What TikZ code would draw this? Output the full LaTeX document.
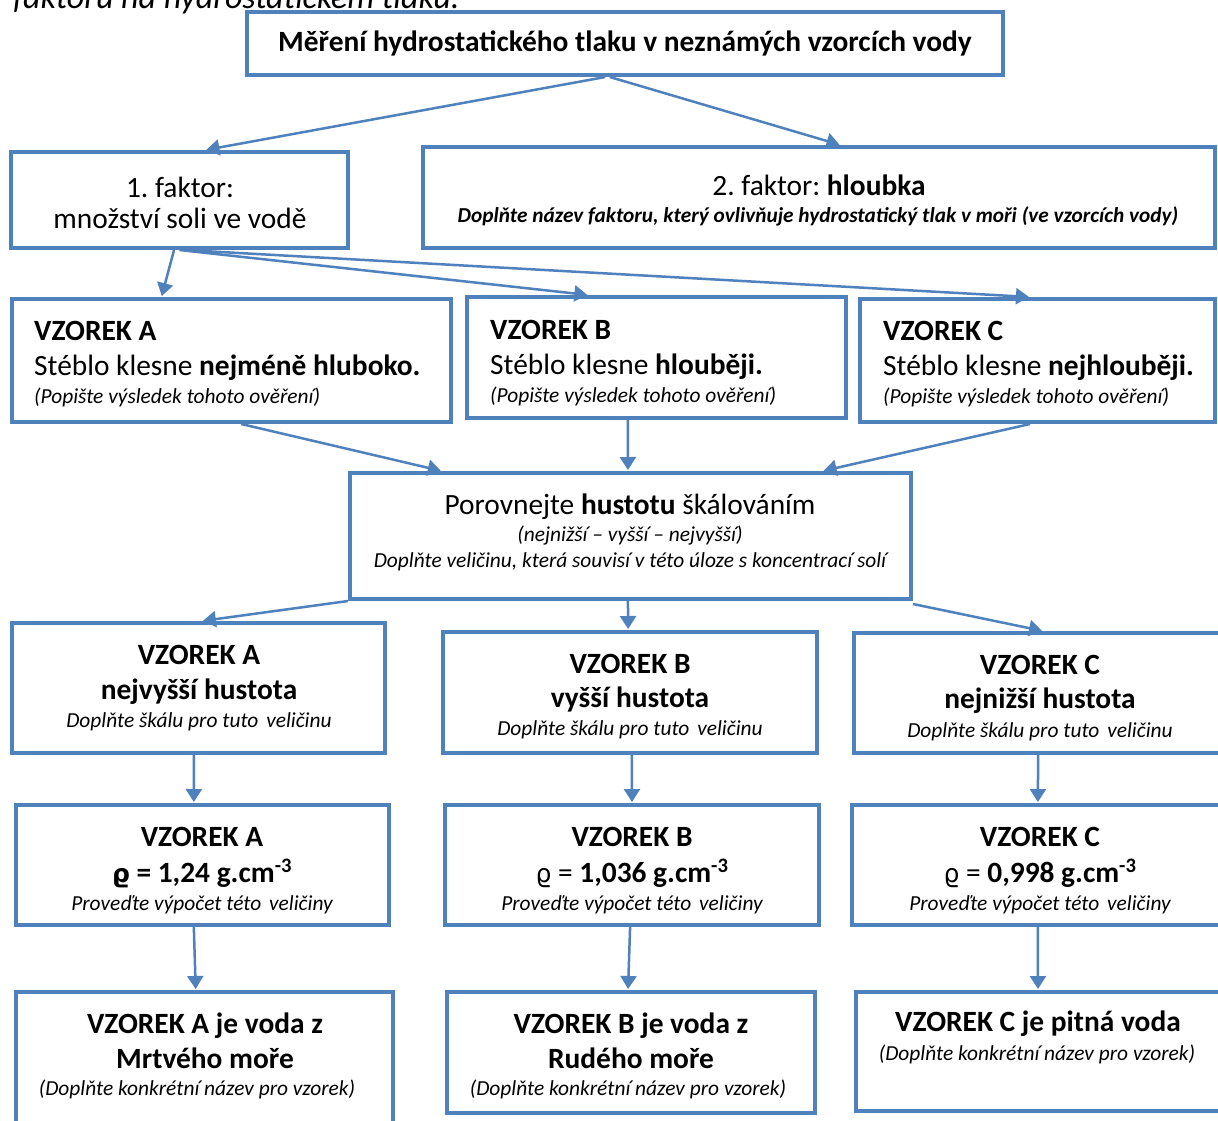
\documentclass[tikz,border=0pt]{standalone}
\usepackage{fontspec}
\setmainfont{Carlito}
\newfontfamily\rhofont{DejaVu Sans}
\usetikzlibrary{arrows.meta,calc}
\definecolor{boxblue}{HTML}{4F81BD}
\newcommand\fsz[1]{\fontsize{#1}{#1}\selectfont}
\frenchspacing
\begin{document}
\frenchspacing
\begin{tikzpicture}[x=1pt,y=-1pt,
  box/.style={draw=boxblue, line width=4pt, inner sep=0pt, fill=white},
  conn/.style={draw=boxblue, line width=2.5pt, -{Triangle[width=16pt,length=13pt]}, shorten >=1pt},
  txt/.style={inner sep=0pt, anchor=base, text=black},
  ltxt/.style={inner sep=0pt, anchor=base west, text=black},
  big/.style={font=\fsz{29.4}},
  bigb/.style={font=\fsz{29.4}\bfseries},
  small/.style={font=\fsz{21.4}\itshape},
]
\useasboundingbox (0,0) rectangle (1218,1120);
\begin{scope}
\clip (0,0) rectangle (1218,1120);
\fill[white] (0,0) rectangle (1218,1120);

% cut-off heading above
\node[ltxt, font=\fsz{34}\itshape] (head) at (13,8) {faktoru na hydrostatickém tlaku.};

% boxes
\node[box, minimum width=756pt, minimum height=63pt]  (top) at (625,43.5) {};
\node[box, minimum width=337pt, minimum height=96pt]  (f1)  at (179.5,200) {};
\node[box, minimum width=792pt, minimum height=101pt] (f2)  at (819,197.5) {};
\node[box, minimum width=439pt, minimum height=123pt] (a2)  at (231.5,360.5) {};
\node[box, minimum width=379pt, minimum height=121pt] (b2)  at (656.5,357.5) {};
\node[box, minimum width=355pt, minimum height=123pt] (c2)  at (1037.5,360.5) {};
\node[box, minimum width=561pt, minimum height=126pt] (por) at (630.5,536) {};
\node[box, minimum width=373pt, minimum height=130pt] (a4)  at (198.5,688) {};
\node[box, minimum width=374pt, minimum height=121pt] (b4)  at (630,692.5) {};
\node[box, minimum width=372pt, minimum height=120pt] (c4)  at (1040,693) {};
\node[box, minimum width=373pt, minimum height=120pt] (a5)  at (202.5,865) {};
\node[box, minimum width=374pt, minimum height=120pt] (b5)  at (632,865) {};
\node[box, minimum width=374pt, minimum height=120pt] (c5)  at (1039,865) {};
\node[box, minimum width=377pt, minimum height=138pt] (a6)  at (204.5,1061) {};
\node[box, minimum width=368pt, minimum height=121pt] (b6)  at (631,1052.5) {};
\node[box, minimum width=370pt, minimum height=119pt] (c6)  at (1041,1051.5) {};

% connectors
\draw[conn] ($(top.south west)!0.474!(top.south east)$) -- ($(f1.north west)!0.576!(f1.north east)$);
\draw[conn] ($(top.south west)!0.48!(top.south east)$) -- ($(f2.north west)!0.527!(f2.north east)$);
\draw[conn] ($(f1.south west)!0.484!(f1.south east)$) -- ($(a2.north west)!0.342!(a2.north east)$);
\draw[conn] ($(f1.south west)!0.50!(f1.south east)$) -- ($(b2.north west)!0.322!(b2.north east)$);
\draw[conn] ($(f1.south west)!0.516!(f1.south east)$) -- ($(c2.north west)!0.479!(c2.north east)$);
\draw[conn] ($(a2.south west)!0.522!(a2.south east)$) -- ($(por.north west)!0.166!(por.north east)$);
\draw[conn] ($(b2.south west)!0.425!(b2.south east)$) -- ($(por.north west)!0.4955!(por.north east)$);
\draw[conn] ($(c2.south west)!0.479!(c2.south east)$) -- ($(por.north west)!0.84!(por.north east)$);
\draw[conn] (por.south west) -- ($(a4.north west)!0.509!(a4.north east)$);
\draw[conn] ($(por.south west)!0.4955!(por.south east)$) -- ($(b4.north west)!0.495!(b4.north east)$);
\draw[conn] ([yshift=-3pt]por.south east) -- ($(c4.north west)!0.508!(c4.north east)$);
\draw[conn] ($(a4.south west)!0.488!(a4.south east)$) -- ($(a5.north west)!0.477!(a5.north east)$);
\draw[conn] ($(b4.south west)!0.505!(b4.south east)$) -- ($(b5.north west)!0.5!(b5.north east)$);
\draw[conn] ($(c4.south west)!0.495!(c4.south east)$) -- ($(c5.north west)!0.497!(c5.north east)$);
\draw[conn] ($(a5.south west)!0.477!(a5.south east)$) -- ($(a6.north west)!0.477!(a6.north east)$);
\draw[conn] ($(b5.south west)!0.495!(b5.south east)$) -- ($(b6.north west)!0.492!(b6.north east)$);
\draw[conn] ($(c5.south west)!0.497!(c5.south east)$) -- ($(c6.north west)!0.492!(c6.north east)$);

% texts
\node[txt, bigb] (ttop) at (625,51) {Měření hydrostatického tlaku v neznámých vzorcích vody};

\node[txt, big] (tf1a) at (180,197) {1. faktor:};
\node[txt, big] (tf1b) at (180,228) {množství soli ve vodě};

\node[txt, big] (tf2a) at (819,195) {2. faktor: \textbf{hloubka}};
\node[txt, font=\fsz{21.3}\bfseries\itshape] (tf2b) at (818,222) {Doplňte název faktoru, který ovlivňuje hydrostatický tlak v moři (ve vzorcích vody)};

\node[ltxt, bigb] (ta2a) at (34,340) {VZOREK A};
\node[ltxt, big]  (ta2b) at (34,375) {Stéblo klesne \textbf{nejméně hluboko.}};
\node[ltxt, small] (ta2c) at (34,403) {(Popište výsledek tohoto ověření)};

\node[ltxt, bigb] (tb2a) at (490,339) {VZOREK B};
\node[ltxt, big]  (tb2b) at (490,374) {Stéblo klesne \textbf{hlouběji.}};
\node[ltxt, small] (tb2c) at (490,402) {(Popište výsledek tohoto ověření)};

\node[ltxt, bigb] (tc2a) at (883,340) {VZOREK C};
\node[ltxt, big]  (tc2b) at (883,375) {Stéblo klesne \textbf{nejhlouběji.}};
\node[ltxt, small] (tc2c) at (883,403) {(Popište výsledek tohoto ověření)};

\node[txt, big] (tpa) at (630,514) {Porovnejte \textbf{hustotu} škálováním};
\node[txt, small] (tpb) at (630,541) {(nejnižší – vyšší – nejvyšší)};
\node[txt, small] (tpc) at (630,567) {Doplňte veličinu, která souvisí v této úloze s koncentrací solí};

\node[txt, bigb] (ta4a) at (199,664) {VZOREK A};
\node[txt, bigb] (ta4b) at (199,699) {nejvyšší hustota};
\node[txt, small] (ta4c) at (199,727) {Doplňte škálu pro tuto\hspace{3pt} veličinu};

\node[txt, bigb] (tb4a) at (630,673) {VZOREK B};
\node[txt, bigb] (tb4b) at (630,707) {vyšší hustota};
\node[txt, small] (tb4c) at (630,735) {Doplňte škálu pro tuto\hspace{3pt} veličinu};

\node[txt, bigb] (tc4a) at (1040,674) {VZOREK C};
\node[txt, bigb] (tc4b) at (1040,708) {nejnižší hustota};
\node[txt, small] (tc4c) at (1040,737) {Doplňte škálu pro tuto\hspace{3pt} veličinu};

\node[txt, bigb] (ta5a) at (202,846) {VZOREK A};
\node[txt, bigb] (ta5b) at (202,882) {{\rhofont\fsz{25}\bfseries ϱ} = 1,24 g.cm\textsuperscript{-3}};
\node[txt, small] (ta5c) at (202,910) {Proveďte výpočet této\hspace{3pt} veličiny};

\node[txt, bigb] (tb5a) at (632,846) {VZOREK B};
\node[txt, big] (tb5b) at (632,882) {{\rhofont\fsz{25}ϱ} = \textbf{1,036 g.cm\textsuperscript{-3}}};
\node[txt, small] (tb5c) at (632,910) {Proveďte výpočet této\hspace{3pt} veličiny};

\node[txt, bigb] (tc5a) at (1040,846) {VZOREK C};
\node[txt, big] (tc5b) at (1040,882) {{\rhofont\fsz{25}ϱ} = \textbf{0,998 g.cm\textsuperscript{-3}}};
\node[txt, small] (tc5c) at (1040,910) {Proveďte výpočet této\hspace{3pt} veličiny};

\node[txt, bigb] (ta6a) at (205,1033) {VZOREK A je voda z};
\node[txt, bigb] (ta6b) at (205,1068) {Mrtvého moře};
\node[txt, small] (ta6c) at (197,1095) {(Doplňte konkrétní název pro vzorek)};

\node[txt, bigb] (tb6a) at (631,1033) {VZOREK B je voda z};
\node[txt, bigb] (tb6b) at (631,1068) {Rudého moře};
\node[txt, small] (tb6c) at (628,1095) {(Doplňte konkrétní název pro vzorek)};

\node[txt, bigb] (tc6a) at (1038,1031) {VZOREK C je pitná voda};
\node[txt, small] (tc6b) at (1037,1060) {(Doplňte konkrétní název pro vzorek)};
\end{scope}
\end{tikzpicture}
\end{document}
